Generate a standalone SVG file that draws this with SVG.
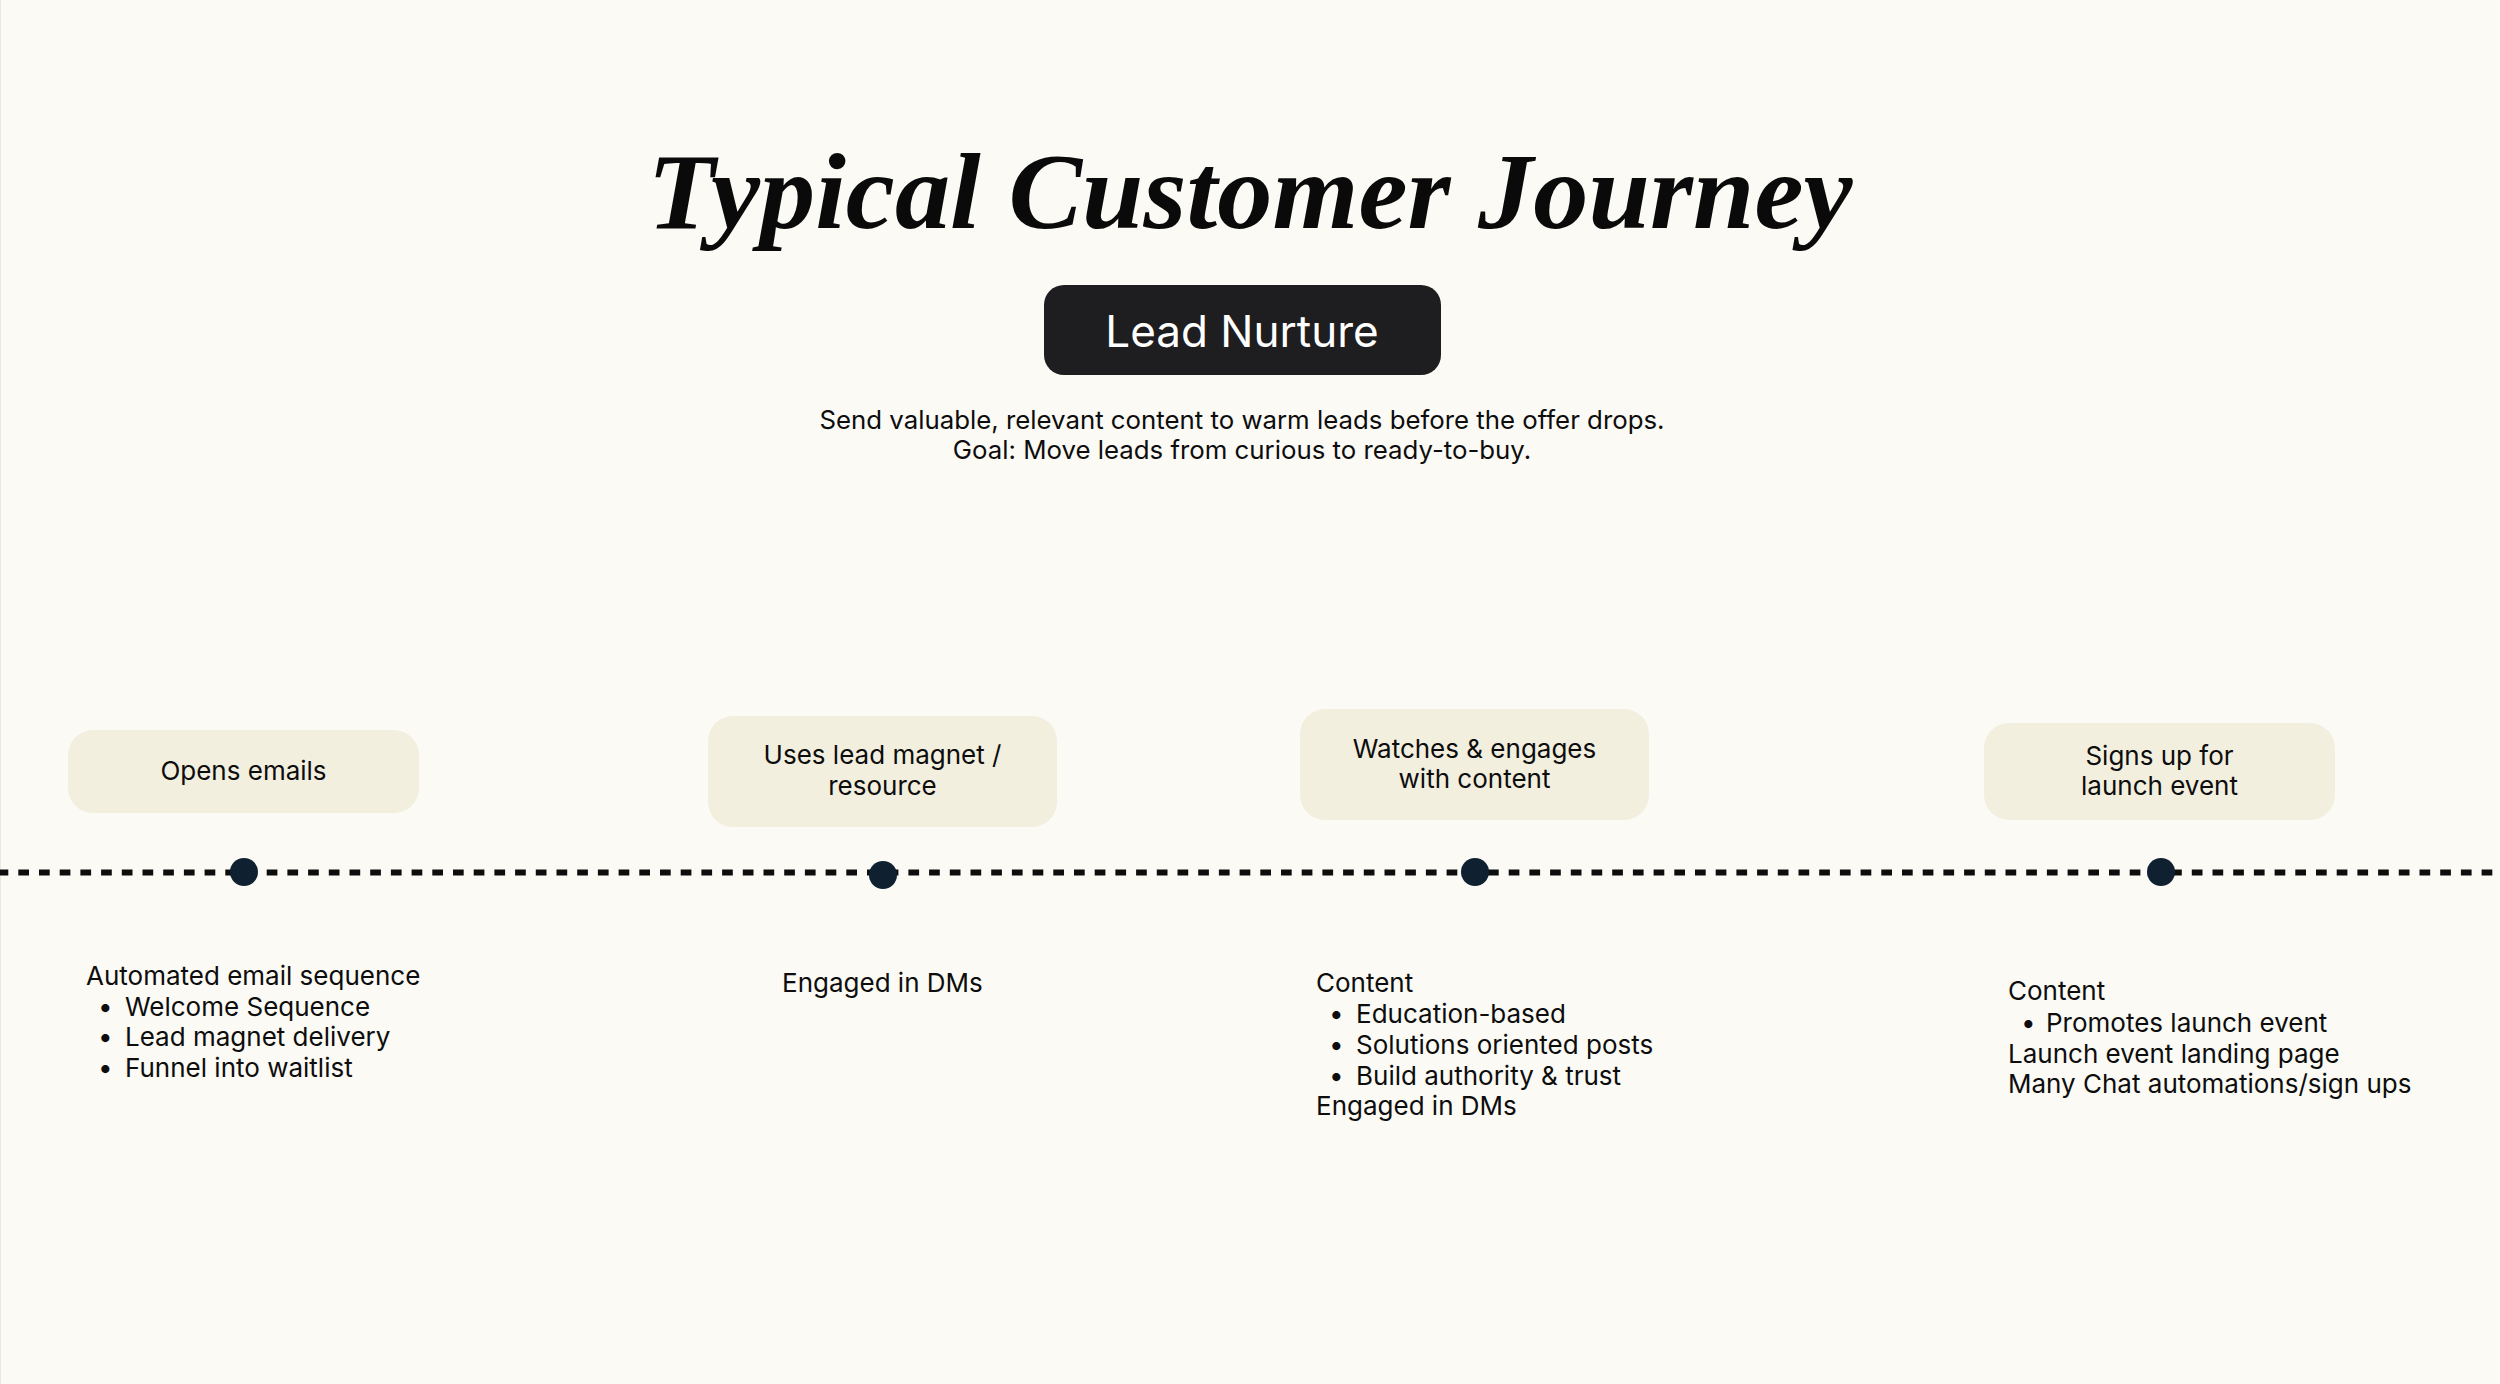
<svg xmlns="http://www.w3.org/2000/svg" width="2500" height="1384" viewBox="0 0 2500 1384">
<style>
.t{font-family:Inter,"Noto Sans",sans-serif;fill:#0d0d0d}
.card{fill:#f2efdf}
.lbl{font-size:26px;text-anchor:middle}
.body{font-size:26px}
.dot{fill:#0f2130}
</style>
<rect x="0" y="0" width="2500" height="1384" fill="#fbfaf5"/>
<line x1="0.5" y1="0" x2="0.5" y2="1384" stroke="#ebe9e0" stroke-width="1"/>
<g id="title">
<text x="1250" y="228" text-anchor="middle" font-family="'Liberation Serif',serif" font-style="italic" font-weight="bold" font-size="108" fill="#0a0a0a" textLength="1205" lengthAdjust="spacingAndGlyphs">Typical Customer Journey</text>
</g>
<g id="stage">
<rect x="1044" y="285" width="397" height="90" rx="20" fill="#1e1e20"/>
<text class="t" x="1242" y="347" text-anchor="middle" font-size="44" style="fill:#ffffff">Lead Nurture</text>
</g>
<g id="description">
<text class="t" x="1242" y="429" text-anchor="middle" font-size="25.8">Send valuable, relevant content to warm leads before the offer drops.</text>
<text class="t" x="1242" y="459" text-anchor="middle" font-size="25.8">Goal: Move leads from curious to ready-to-buy.</text>
</g>
<g id="connectors">
<line x1="0" y1="872.5" x2="2500" y2="872.5" stroke="#0d0d0d" stroke-width="6" stroke-dasharray="10.7 10" stroke-dashoffset="2.4"/>
</g>
<g id="step1">
<rect class="card" x="68" y="730" width="351" height="83" rx="25"/>
<text class="t lbl" x="243.5" y="780">Opens emails</text>
<circle class="dot" cx="244" cy="872" r="14"/>
<text class="t body" x="86" y="985">Automated email sequence</text>
<text class="t body" x="98" y="1016">•</text><text class="t body" x="125" y="1016">Welcome Sequence</text>
<text class="t body" x="98" y="1046">•</text><text class="t body" x="125" y="1046">Lead magnet delivery</text>
<text class="t body" x="98" y="1077">•</text><text class="t body" x="125" y="1077">Funnel into waitlist</text>
</g>
<g id="step2">
<rect class="card" x="708" y="716" width="349" height="111" rx="25"/>
<text class="t lbl" x="882.5" y="764">Uses lead magnet /</text>
<text class="t lbl" x="882.5" y="795">resource</text>
<circle class="dot" cx="883" cy="875" r="14"/>
<text class="t body" x="782" y="992">Engaged in DMs</text>
</g>
<g id="step3">
<rect class="card" x="1300" y="709" width="349" height="111" rx="25"/>
<text class="t lbl" x="1474.5" y="758">Watches &amp; engages</text>
<text class="t lbl" x="1474.5" y="788">with content</text>
<circle class="dot" cx="1475" cy="872" r="14"/>
<text class="t body" x="1316" y="992">Content</text>
<text class="t body" x="1329" y="1023">•</text><text class="t body" x="1356" y="1023">Education-based</text>
<text class="t body" x="1329" y="1054">•</text><text class="t body" x="1356" y="1054">Solutions oriented posts</text>
<text class="t body" x="1329" y="1085">•</text><text class="t body" x="1356" y="1085">Build authority &amp; trust</text>
<text class="t body" x="1316" y="1115">Engaged in DMs</text>
</g>
<g id="step4">
<rect class="card" x="1984" y="723" width="351" height="97" rx="25"/>
<text class="t lbl" x="2159.5" y="765">Signs up for</text>
<text class="t lbl" x="2159.5" y="795">launch event</text>
<circle class="dot" cx="2161" cy="872" r="14"/>
<text class="t body" x="2008" y="1000">Content</text>
<text class="t body" x="2021" y="1032">•</text><text class="t body" x="2046" y="1032">Promotes launch event</text>
<text class="t body" x="2008" y="1063">Launch event landing page</text>
<text class="t body" x="2008" y="1093">Many Chat automations/sign ups</text>
</g>
</svg>
